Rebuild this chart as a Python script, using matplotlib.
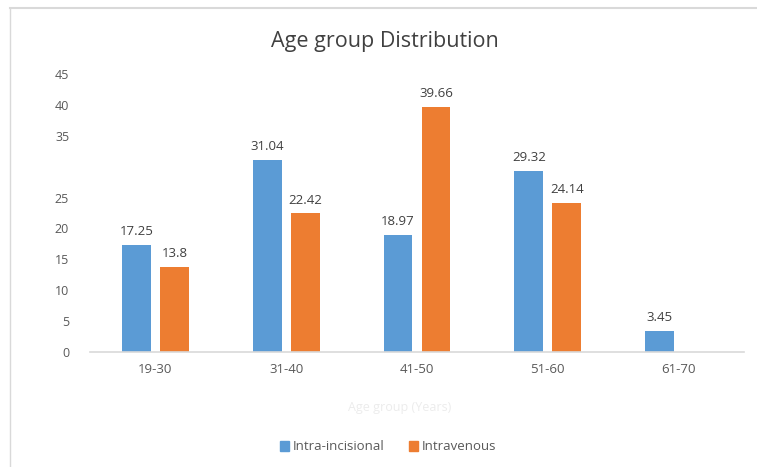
import matplotlib
matplotlib.use("Agg")
import matplotlib.pyplot as plt
import numpy as np
from matplotlib.lines import Line2D
from matplotlib.patches import Patch

categories = ["19-30", "31-40", "41-50", "51-60", "61-70"]
intra_incisional = [17.25, 31.04, 18.97, 29.32, 3.45]
intravenous = [13.8, 22.42, 39.66, 24.14, None]
label_intra = ["17.25", "31.04", "18.97", "29.32", "3.45"]
label_iv = ["13.8", "22.42", "39.66", "24.14", ""]
yticks = [0, 5, 10, 15, 20, 25, 35, 40, 45]

plt.rcParams['font.family'] = ['Open Sans', 'DejaVu Sans']
W, H = 757, 467
fig = plt.figure(figsize=(W / 100, H / 100), dpi=100)
ax = fig.add_axes([90 / W, (H - 352) / H, (744 - 90) / W, (352 - 74) / H])

x = np.arange(len(categories))
bw = 0.22
off = 0.145
blue = "#5B9BD5"
orange = "#ED7D31"
iv_vals = [v if v is not None else 0 for v in intravenous]
ax.bar(x - off, intra_incisional, bw, color=blue, label="Intra-incisional")
ax.bar(x + off, iv_vals, bw, color=orange, label="Intravenous")
for xi, v, t in zip(x - off, intra_incisional, label_intra):
    ax.annotate(t, (xi, v), xytext=(0, 5), textcoords="offset points",
                ha="center", va="bottom", fontsize=9.5, color="#404040")
for xi, v, t in zip(x + off, iv_vals, label_iv):
    if t:
        ax.annotate(t, (xi, v), xytext=(0, 5), textcoords="offset points",
                    ha="center", va="bottom", fontsize=9.5, color="#404040")

ax.set_xlim(-0.5, len(categories) - 0.5)
ax.set_ylim(0, 45)
ax.set_xticks(x)
ax.set_xticklabels(categories, fontsize=9.5, color="#595959")
ax.set_yticks(yticks)
ax.set_yticklabels([str(t) for t in yticks], fontsize=9, color="#595959")
ax.tick_params(axis="both", length=0)
ax.tick_params(axis="x", pad=8)
ax.tick_params(axis="y", pad=15)
for s in ["top", "right", "left"]:
    ax.spines[s].set_visible(False)
ax.spines["bottom"].set_color("#d9d9d9")
ax.spines["bottom"].set_linewidth(1.2)

fig.text(385 / W, 1 - 42 / H, "Age group Distribution", ha="center", va="center",
         fontsize=15.5, color="#404040")
fig.text(400 / W, 1 - 407 / H, "Age group (Years)", ha="center", va="center",
         fontsize=9, color="#ececec")

handles = [Patch(color=blue), Patch(color=orange)]
fig.legend(handles, ["Intra-incisional", "Intravenous"], loc="center",
           bbox_to_anchor=(388 / W, 1 - 447 / H), ncol=2, frameon=False,
           fontsize=9.5, handlelength=0.7, handleheight=0.7, handletextpad=0.3,
           columnspacing=1.8, labelcolor="#595959")

fig.add_artist(Line2D([10 / W, 10 / W], [0, 1 - 8 / H], transform=fig.transFigure,
                      color="#d9d9d9", lw=1))
fig.add_artist(Line2D([10 / W, 1], [1 - 8 / H, 1 - 8 / H], transform=fig.transFigure,
                      color="#d9d9d9", lw=1.5))

fig.savefig("out.png", dpi=100)
